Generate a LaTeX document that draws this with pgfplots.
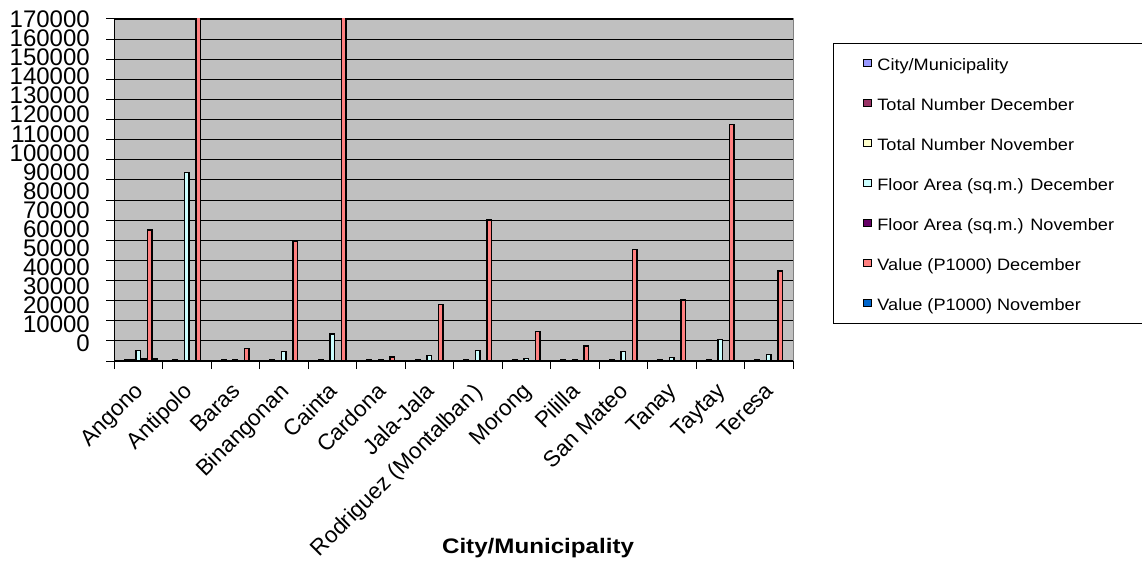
\documentclass[border=0pt]{standalone}
\usepackage{fontspec}
\setmainfont{Liberation Sans}
\newfontfamily\legfont[FakeStretch=1.1]{Liberation Sans}
\newfontfamily\titlefont[FakeStretch=1.15]{Liberation Sans}
\usepackage{pgfplots}
\pgfplotsset{compat=1.18}
\definecolor{cCity}{HTML}{9999FF}
\definecolor{cTotD}{HTML}{993366}
\definecolor{cTotN}{HTML}{FFFFCC}
\definecolor{cFlD}{HTML}{CCFFFF}
\definecolor{cFlN}{HTML}{660066}
\definecolor{cValD}{HTML}{FF8080}
\definecolor{cValN}{HTML}{0066CC}
\definecolor{plotbg}{HTML}{C0C0C0}
\begin{document}
\begin{tikzpicture}
\path[use as bounding box] (0,0) rectangle (1142pt,578pt);
\begin{axis}[
  at={(114pt,217pt)}, anchor=south west,
  scale only axis, width=679pt, height=342pt,
  ybar, bar width=4.3pt,
  legend image code/.code={\draw[#1, draw=black, line width=0.9pt] (0pt,-3.65pt) rectangle (7.3pt,3.65pt);},
  xmin=-0.5, xmax=13.5, ymin=0, ymax=170000,
  xtick={0,...,13},
  xticklabels={Angono,Antipolo,Baras,Binangonan,Cainta,Cardona,Jala-Jala,Rodriguez (Montalban\,),Morong,Pililla,San Mateo,Tanay,Taytay,Teresa},
  minor xtick={-0.5,0.5,...,13.5},
  ytick={0,10000,...,170000},
  scaled y ticks=false,
  tick align=outside, major tick length=8pt, minor tick length=8pt,
  every tick/.style={black, line width=1pt},
  major x tick style={draw=none},
  axis x line*=bottom, axis y line*=left,
  axis line style={black, line width=1pt},
  axis background/.style={fill=plotbg, draw=gray, line width=1pt},
  ymajorgrids, major grid style={black, line width=1.1pt},
  /pgf/number format/fixed,
  /pgf/number format/precision=0,
  /pgf/number format/1000 sep={},
  /pgf/number format/assume math mode=true,
  yticklabel={\pgfmathparse{9.1-1.04*\ticknum}\raisebox{\pgfmathresult pt}[0pt][0pt]{\pgfmathprintnumber{\tick}}},
  yticklabel style={font=\fontsize{24}{24}\selectfont, anchor=east, inner sep=0pt, xshift=-16pt},
  xticklabel style={font=\fontsize{22.5}{22.5}\selectfont, inner sep=0pt, xshift=-5pt, yshift=-12pt, rotate=45, anchor=north east},
  xlabel={City/Municipality},
  xlabel style={font=\titlefont\bfseries\fontsize{21}{21}\selectfont, at={(axis description cs:0.6245,-0.5614)}, anchor=base},
  legend style={at={(1.0589,0.9298)}, anchor=north west, draw=black, fill=white,
    font=\legfont\fontsize{16.5}{16.5}\selectfont, inner xsep=30pt, inner ysep=12pt,
    row sep=24.5pt, nodes={inner sep=0pt, text height=15pt, text depth=0.5pt},
    /tikz/every odd column/.append style={column sep=6pt}},
  legend cell align=left,
]
\addlegendimage{fill=cCity}
\addplot[fill=cTotD, draw=black, line width=1.5pt, bar shift=-11.4pt] coordinates {
 (0,800) (1,850) (2,700) (3,750) (4,800) (5,700) (6,700) (7,750) (8,750) (9,700) (10,800) (11,700) (12,750) (13,700)};
\addplot[fill=cTotN, draw=black, line width=1.5pt, bar shift=-5.7pt] coordinates {
 (0,750)};
\addplot[fill=cFlD, draw=black, line width=1.5pt, bar shift=0pt] coordinates {
 (0,5100) (1,93600) (2,800) (3,4600) (4,13400) (5,800) (6,2800) (7,5100) (8,1300) (9,800) (10,4600) (11,1800) (12,10800) (13,3300)};
\addplot[fill=cFlN, draw=black, line width=1.5pt, bar shift=5.7pt] coordinates {
 (0,900)};
\addplot[fill=cValD, draw=black, line width=1.5pt, bar shift=11.4pt] coordinates {
 (0,65100) (1,230000) (2,6300) (3,59300) (4,210000) (5,2100) (6,28000) (7,70100) (8,14600) (9,7500) (10,55500) (11,30300) (12,117500) (13,44700)};
\addplot[fill=cValN, draw=black, line width=1.5pt, bar shift=17.1pt] coordinates {
 (0,900)};
\legend{City/Municipality,Total Number December,Total Number November,Floor Area (sq.m.) December,Floor Area (sq.m.) November,Value (P1000) December,Value (P1000) November}
\end{axis}
\end{tikzpicture}
\end{document}
